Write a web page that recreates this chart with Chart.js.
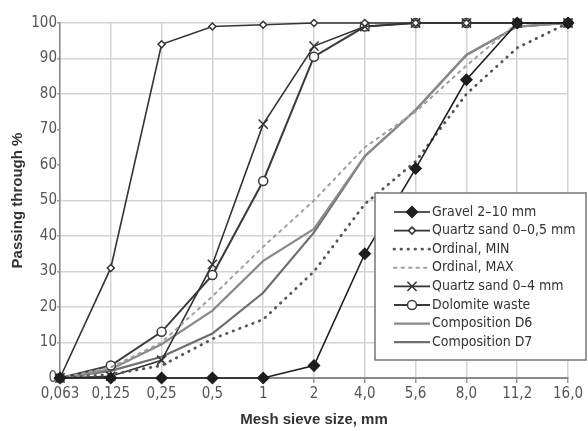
<!DOCTYPE html>
<html lang="en">
  <head>
    <style>
      body { margin: 0; background: #fff; }
      .chart { width: 588px; height: 431px; }
    </style>
  </head>
  <body>
    <div class="chart">
      <canvas id="myChart"></canvas>
    </div>

    <script src="https://cdn.jsdelivr.net/npm/chart.js@4/dist/chart.umd.min.js"></script>
    <script>
      // sieve sizes (mm) as printed on the axis
      var sieve_labels = ["0,063", "0,125", "0,25", "0,5", "1", "2", "4,0", "5,6", "8,0", "11,2", "16,0"];

      // passing through, %
      var gravel = [0, 0, 0, 0, 0, 3.5, 35, 59, 84, 100, 100];
      var quartz_05 = [0, 31, 94, 99, 99.5, 100, 100, 100, 100, 100, 100];
      var ordinal_min = [0, 1, 3.5, 11, 16.5, 30, 49, 61, 80, 93, 100];
      var ordinal_max = [0, 3, 10, 23, 37, 50, 65, 75, 88, 100, 100];
      var quartz_04 = [0, 0.5, 5, 32, 71.5, 93.5, 99, 100, 100, 100, 100];
      var dolomite = [0, 3.5, 13, 29, 55.5, 90.5, 99, 100, 100, 100, 100];
      var comp_d6 = [0, 2.5, 9.5, 19, 33, 42, 62.5, 75.5, 91, 99, 100];
      var comp_d7 = [0, 2, 6, 12.5, 24, 41, 62.5, 75.5, 91, 99, 100];

      // the printed chart has no grid line at these values
      var hidden_grid = [60, 70];

      var font_family = "'Liberation Sans Narrow', 'DejaVu Sans Condensed', 'Liberation Sans', sans-serif";

      function drawMarker(ctx, style, x, y, r, fill, stroke, bw) {
        if (!style || r <= 0) return;
        ctx.save();
        ctx.lineWidth = bw;
        ctx.strokeStyle = stroke;
        ctx.fillStyle = fill;
        ctx.setLineDash([]);
        ctx.beginPath();
        if (style === "rectRot") {
          ctx.moveTo(x, y - r);
          ctx.lineTo(x + r, y);
          ctx.lineTo(x, y + r);
          ctx.lineTo(x - r, y);
          ctx.closePath();
          ctx.fill();
          ctx.stroke();
        } else if (style === "circle") {
          ctx.arc(x, y, r, 0, Math.PI * 2);
          ctx.fill();
          ctx.stroke();
        } else if (style === "crossRot") {
          var d = r * Math.SQRT1_2;
          ctx.moveTo(x - d, y - d);
          ctx.lineTo(x + d, y + d);
          ctx.moveTo(x + d, y - d);
          ctx.lineTo(x - d, y + d);
          ctx.stroke();
        }
        ctx.restore();
      }

      // legend box drawn inside the plot, lower right
      var boxLegend = {
        id: "boxLegend",
        afterDraw: function (chart) {
          var ctx = chart.ctx;
          var x0 = 375, y0 = 193, w = 211, h = 167;
          ctx.save();
          ctx.fillStyle = "#fff";
          ctx.fillRect(x0, y0, w, h);
          ctx.strokeStyle = "#777";
          ctx.lineWidth = 1.5;
          ctx.strokeRect(x0, y0, w, h);
          ctx.font = "14px " + font_family;
          ctx.textBaseline = "middle";
          ctx.fillStyle = "#333";
          chart.data.datasets.forEach(function (ds, i) {
            var y = 212 + i * 18.6;
            ctx.save();
            ctx.strokeStyle = ds.borderColor;
            ctx.lineWidth = ds.borderWidth;
            ctx.lineCap = ds.borderCapStyle || "butt";
            ctx.setLineDash(ds.borderDash || []);
            ctx.beginPath();
            ctx.moveTo(394, y);
            ctx.lineTo(430, y);
            ctx.stroke();
            ctx.restore();
            drawMarker(ctx, ds.pointStyle, 412, y, ds.pointRadius, ds.pointBackgroundColor, ds.pointBorderColor, ds.pointBorderWidth);
            ctx.fillStyle = "#333";
            ctx.fillText(ds.label, 432, y);
          });
          ctx.restore();
        },
      };

      function series(label, data, color, width, dash, style, radius, fill) {
        return {
          label: label,
          data: data,
          borderColor: color,
          borderWidth: width,
          borderDash: dash,
          borderCapStyle: dash.length ? "round" : "butt",
          pointStyle: style || false,
          pointRadius: style ? radius : 0,
          pointBackgroundColor: fill,
          pointBorderColor: color,
          pointBorderWidth: 1.5,
          tension: 0,
          clip: false,
        };
      }

      const ctx = document.getElementById("myChart");
      new Chart(ctx, {
        type: "line",
        data: {
          labels: sieve_labels,
          datasets: [
            series("Gravel 2\u201310 mm", gravel, "#1e1e1e", 1.6, [], "rectRot", 5.5, "#1e1e1e"),
            series("Quartz sand 0\u20130,5 mm", quartz_05, "#333", 1.6, [], "rectRot", 3.5, "#fff"),
            series("Ordinal, MIN", ordinal_min, "#555", 2.8, [0.5, 6.5], null),
            series("Ordinal, MAX", ordinal_max, "#a0a0a0", 2, [2.5, 5], null),
            series("Quartz sand 0\u20134 mm", quartz_04, "#333", 1.6, [], "crossRot", 6.5, "#fff"),
            series("Dolomite waste", dolomite, "#3a3a3a", 2, [], "circle", 4.5, "#fff"),
            series("Composition D6", comp_d6, "#8a8a8a", 2.2, [], null),
            series("Composition D7", comp_d7, "#6e6e6e", 2.2, [], null),
          ],
        },
        options: {
          responsive: true,
          maintainAspectRatio: false,
          animation: false,
          layout: { padding: { top: 23, right: 20, left: 0, bottom: 0 } },
          scales: {
            x: {
              type: "category",
              offset: false,
              afterFit: function (scale) { scale.height = 53; },
              grid: { color: "#d4d4d4", lineWidth: 1.5, tickLength: 5, tickColor: "#999" },
              border: { color: "#8a8a8a", width: 2 },
              ticks: {
                color: "#555",
                padding: 2,
                maxRotation: 0,
                autoSkip: false,
                font: { family: font_family, size: 15 },
              },
              title: {
                display: true,
                text: "Mesh sieve size, mm",
                color: "#333",
                padding: { top: 4, bottom: 2 },
                font: { family: "'Liberation Sans', sans-serif", size: 15, weight: "bold" },
              },
            },
            y: {
              min: 0,
              max: 100,
              afterFit: function (scale) { scale.width = 60; },
              grid: {
                color: function (c) {
                  return c.tick && hidden_grid.indexOf(c.tick.value) >= 0 ? "rgba(0,0,0,0)" : "#d4d4d4";
                },
                lineWidth: 1.5,
                tickLength: 3,
                tickColor: "#999",
              },
              border: { color: "#8a8a8a", width: 1.5 },
              ticks: {
                stepSize: 10,
                color: "#555",
                padding: 0,
                font: { family: font_family, size: 15 },
              },
              title: {
                display: true,
                text: "Passing through %",
                color: "#333",
                padding: { top: 9, bottom: 2 },
                font: { family: "'Liberation Sans', sans-serif", size: 15, weight: "bold" },
              },
            },
          },
          plugins: {
            legend: { display: false },
            tooltip: { enabled: false },
          },
        },
        plugins: [boxLegend],
      });
    </script>
  </body>
</html>
